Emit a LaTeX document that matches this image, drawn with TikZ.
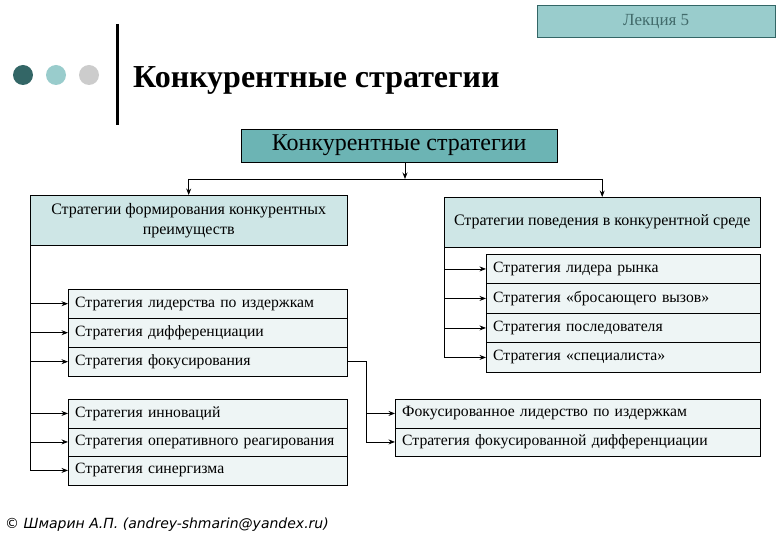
\documentclass[tikz,border=0pt]{standalone}
\usepackage{fontspec}
\setmainfont{Liberation Serif}
\newfontfamily\footfont{DejaVu Sans}
\usetikzlibrary{arrows.meta}

\definecolor{tealdark}{RGB}{51,102,102}
\definecolor{teallight}{RGB}{153,204,204}
\definecolor{tealmid}{RGB}{108,180,180}
\definecolor{tealpale}{RGB}{206,230,230}
\definecolor{tealwhite}{RGB}{238,245,245}
\definecolor{dotgray}{RGB}{204,204,204}

\begin{document}
\begin{tikzpicture}[
  x=1pt, y=-1pt,
  lecbox/.style={draw=tealdark, fill=teallight, minimum width=238pt, minimum height=32pt,
                 inner sep=0pt, anchor=north west, text=tealdark!80!gray,
                 font=\fontsize{17}{20}\selectfont},
  topbox/.style={draw, fill=tealmid, minimum width=316pt, minimum height=33pt,
                 inner sep=0pt, anchor=north west, font=\fontsize{24}{28}\selectfont},
  catbox/.style={draw, fill=tealpale, minimum width=317pt, minimum height=50pt,
                 inner sep=0pt, anchor=north west, align=center,
                 font=\fontsize{16}{20}\selectfont},
  leafbox/.style={draw, fill=tealwhite, text width=#1, inner xsep=7pt, inner ysep=0pt,
                  minimum height=29pt, anchor=north west, align=left,
                  font=\fontsize{15.7}{19}\selectfont},
  leafbox/.default=265pt,
  conn/.style={line width=0.8pt},
  prog/.style={conn, -{Stealth[length=6.5pt,width=5pt]}},
]
\useasboundingbox (0,0) rectangle (780,540);

% Header: dots, bar, title, lecture label
\fill[tealdark]  (23,75) circle (10pt);
\fill[teallight] (56,75) circle (10pt);
\fill[dotgray]   (89,75) circle (10pt);
\draw[line width=3pt] (117,24) -- (117,125);
\node[anchor=west, inner sep=0pt, font=\bfseries\fontsize{32}{38}\selectfont] (title) at (133,80)
  {Конкурентные стратегии};
\node[lecbox] (lecture) at (537,5) {Лекция 5};

% Level 0: Root
\node[topbox] (root) at (241,129) {Конкурентные стратегии};

% Level 1: two categories
\node[catbox] (catA) at (30,195) {\raisebox{-2pt}{Стратегии формирования конкурентных}\\\raisebox{-2pt}{преимуществ}};
\node[catbox, minimum width=316pt] (catB) at (444,197) {\raisebox{-2pt}{Стратегии поведения в конкурентной среде}};

% Bracket from root to categories
\coordinate (hub) at (405,179);
\draw[prog] (hub |- root.south) -- (hub);
\draw[conn] (hub -| catA.north) -- (hub -| catB.north);
\draw[prog] (hub -| catA.north) -- (catA.north);
\draw[prog] (hub -| catB.north) -- (catB.north);

% Level 2: forming strategies (left)
\node[leafbox] (la1) at (68,289)   {Стратегия лидерства по издержкам};
\node[leafbox] (la2) at (68,318)   {Стратегия дифференциации};
\node[leafbox] (la3) at (68,347)   {Стратегия фокусирования};
\node[leafbox, minimum height=28.5pt] (lb1) at (68,399)   {Стратегия инноваций};
\node[leafbox, minimum height=28.5pt] (lb2) at (68,427.5) {Стратегия оперативного реагирования};
\node[leafbox, minimum height=28.5pt] (lb3) at (68,456)   {Стратегия синергизма};

% Left trunk
\draw[conn] (catA.south west) -- (catA.south west |- lb3.west);
\foreach \n in {la1,la2,la3,lb1,lb2,lb3}
  \draw[prog] (catA.south west |- \n.west) -- (\n.west);

% Level 2: behaviour strategies (right)
\node[leafbox=260pt, minimum height=29.5pt] (r1) at (486,254)   {Стратегия лидера рынка};
\node[leafbox=260pt, minimum height=29.5pt] (r2) at (486,283.5) {Стратегия «бросающего вызов»};
\node[leafbox=260pt, minimum height=29.5pt] (r3) at (486,313)   {Стратегия последователя};
\node[leafbox=260pt, minimum height=29.5pt] (r4) at (486,342.5) {Стратегия «специалиста»};

% Right trunk
\draw[conn] (catB.south west) -- (catB.south west |- r4.west);
\foreach \n in {r1,r2,r3,r4}
  \draw[prog] (catB.south west |- \n.west) -- (\n.west);

% Focus variants
\node[leafbox=351pt, minimum height=28.5pt] (f1) at (395,399)   {Фокусированное лидерство по издержкам};
\node[leafbox=351pt, minimum height=28.5pt] (f2) at (395,427.5) {Стратегия фокусированной дифференциации};

\coordinate (fk) at (366,0);
\draw[conn] (la3.east) -- (la3.east -| fk) -- (fk |- f2.west);
\draw[prog] (fk |- f1.west) -- (f1.west);
\draw[prog] (fk |- f2.west) -- (f2.west);

% Footer
\node[anchor=west, inner sep=0pt, font=\footfont\itshape\fontsize{14}{17}\selectfont] (foot) at (5,525)
  {© Шмарин А.П. (andrey-shmarin@yandex.ru)};

\end{tikzpicture}
\end{document}
